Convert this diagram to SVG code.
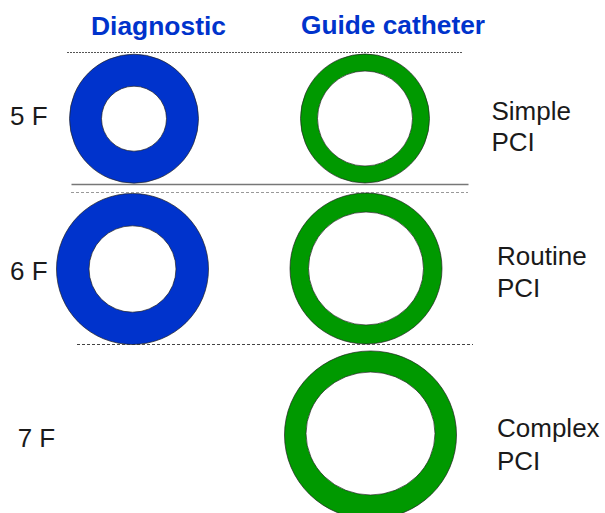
<svg xmlns="http://www.w3.org/2000/svg" width="605" height="513" viewBox="0 0 605 513">
<style>
.hd{font-family:"Liberation Sans",Arial,sans-serif;font-weight:bold;font-size:25px;fill:#0033CC}
.lb{font-family:"Liberation Sans",Arial,sans-serif;font-size:26px;fill:#1a1a1a}
.blue{fill:#0033CC;fill-rule:evenodd;stroke:#222;stroke-width:0.7}
.green{fill:#009900;fill-rule:evenodd;stroke:#222;stroke-width:0.7}
.dash{stroke:#444;stroke-width:1;stroke-dasharray:3 2;fill:none}
</style>
<rect width="605" height="513" fill="#fff"/>
<g id="lines">
<line class="dash" x1="67" y1="52.5" x2="463" y2="52.5" style="stroke-dasharray:2 1;stroke:#555"/>
<line x1="71.5" y1="184.5" x2="468.5" y2="184.5" stroke="#777" stroke-width="1.4"/>
<line class="dash" x1="71" y1="192.5" x2="468" y2="192.5" style="stroke:#999"/>
<line class="dash" x1="77" y1="344.5" x2="473" y2="344.5"/>
</g>
<g id="headers">
<text class="hd" x="91" y="34.5" textLength="135" lengthAdjust="spacingAndGlyphs">Diagnostic</text>
<text class="hd" x="301" y="34" textLength="184" lengthAdjust="spacingAndGlyphs">Guide catheter</text>
</g>
<g id="sizes">
<text class="lb" x="10" y="125">5 F</text>
<text class="lb" x="10" y="280">6 F</text>
<text class="lb" x="17.7" y="447">7 F</text>
</g>
<g id="uses">
<text class="lb" x="491.5" y="119.5">Simple</text>
<text class="lb" x="491.5" y="151">PCI</text>
<text class="lb" x="497" y="265">Routine</text>
<text class="lb" x="497" y="297">PCI</text>
<text class="lb" x="497" y="437">Complex</text>
<text class="lb" x="497" y="469.5">PCI</text>
</g>
<g id="diag-5F">
<path class="blue" d="M69.5,118.7a64.5,64.5 0 1,0 129,0a64.5,64.5 0 1,0 -129,0Z M101.5,118.7a32.5,32.5 0 1,0 65,0a32.5,32.5 0 1,0 -65,0Z"/>
</g>
<g id="guide-5F">
<path class="green" d="M300.5,118.5a64.5,64.5 0 1,0 129,0a64.5,64.5 0 1,0 -129,0Z M317.5,118.5a47.5,47.5 0 1,0 95,0a47.5,47.5 0 1,0 -95,0Z"/>
</g>
<g id="diag-6F">
<path class="blue" d="M56.5,269a76,75.5 0 1,0 152,0a76,75.5 0 1,0 -152,0Z M89,269a43.5,43.2 0 1,0 87,0a43.5,43.2 0 1,0 -87,0Z"/>
</g>
<g id="guide-6F">
<path class="green" d="M290,268.5a76,75.5 0 1,0 152,0a76,75.5 0 1,0 -152,0Z M308.5,268.5a57.5,56.5 0 1,0 115,0a57.5,56.5 0 1,0 -115,0Z"/>
</g>
<g id="guide-7F">
<path class="green" d="M284.5,435a86,84 0 1,0 172,0a86,84 0 1,0 -172,0Z M306,433.5a64.5,61.5 0 1,0 129,0a64.5,61.5 0 1,0 -129,0Z"/>
</g>
</svg>
